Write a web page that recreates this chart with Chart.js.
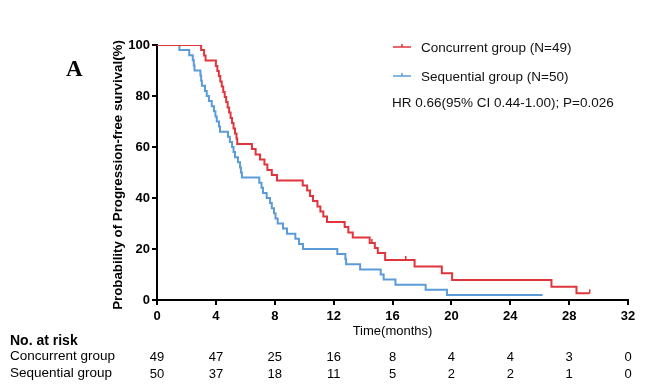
<!DOCTYPE html>
<html>
<head>
<meta charset="utf-8">
<script src="https://cdn.jsdelivr.net/npm/chart.js@4.4.1/dist/chart.umd.min.js"></script>
<style>
  html,body{margin:0;padding:0;background:#fff;}
  #wrap{width:648px;height:389px;position:relative;}
</style>
</head>
<body>
<div id="wrap"><canvas id="c" width="648" height="389"></canvas></div>
<script>
// ---- data ----
const concurrentTime = [0,3.0,3.2,3.3,4.0,4.1,4.2,4.3,4.4,4.5,4.6,4.7,4.8,4.9,5.0,5.1,5.2,5.3,5.4,5.45,6.45,6.7,7.0,7.3,7.5,7.8,8.15,9.9,10.2,10.4,10.6,10.9,11.1,11.3,11.55,12.75,13.0,13.3,14.45,14.8,15.0,15.5,17.5,19.35,20.05,26.8,28.5,29.4];
const concurrentSurv = [100,98.0,95.9,93.9,91.8,89.8,87.8,85.7,83.7,81.6,79.6,77.6,75.5,73.5,71.4,69.4,67.3,65.3,63.3,61.2,59.2,57.1,55.1,53.1,51.0,49.0,46.9,44.9,42.9,40.8,38.8,36.7,34.7,32.7,30.6,28.6,26.5,24.5,22.4,20.4,18.4,15.7,13.1,10.5,7.8,5.2,2.6,2.6];
const concurrentCensorTime = [14.6,16.9,29.4];
const concurrentCensorSurv = [22.4,15.7,2.6];

const sequentialTime = [0,1.52,2.19,2.43,2.5,2.55,2.95,3.0,3.05,3.26,3.38,3.53,3.72,3.87,3.97,4.06,4.21,4.28,4.82,4.95,5.1,5.2,5.3,5.5,5.64,5.7,5.77,6.95,7.1,7.2,7.45,7.68,7.8,7.95,8.05,8.2,8.56,8.83,9.4,9.65,9.92,12.25,12.8,12.85,13.8,15.2,15.4,16.2,18.25,19.7,26.2];
const sequentialSurv = [100,98,96,94,92,90,88,86,84,82,80,78,76,74,72,70,68,66,64,62,60,58,56,54,52,50,48,46,44,42,40,38,36,34,32,30,28,26,24,22,20,18,16,14,12,10,8,6,4,2,2];

const riskTimes = [0,4,8,12,16,20,24,28,32];
const concurrentRisk = [49,47,25,16,8,4,4,3,0];
const sequentialRisk = [50,37,18,11,5,2,2,1,0];

const seriesNames = ["Concurrent group (N=49)","Sequential group (N=50)"];
const riskRowNames = ["Concurrent group","Sequential group"];
const hrText = "HR 0.66(95% CI 0.44-1.00); P=0.026";

const RED = "#e0353d";
const BLUE = "#5b9bd8";
const FONT = "'Liberation Sans', Arial, sans-serif";

function pts(xs, ys){ return xs.map((x,i)=>({x:x, y:ys[i]})); }

const overlay = {
  id: 'overlay',
  afterDraw(chart){
    const ctx = chart.ctx;
    const xs = chart.scales.x;
    const ca = chart.chartArea;
    ctx.save();
    ctx.fillStyle = '#000';
    // Panel letter
    ctx.font = "bold 23px 'Liberation Serif', 'Times New Roman', serif";
    ctx.textAlign = 'left'; ctx.textBaseline = 'alphabetic';
    ctx.fillText('A', 66, 76);
    // Y title
    ctx.save();
    ctx.translate(118, 175);
    ctx.rotate(-Math.PI/2);
    ctx.font = "bold 13.3px " + FONT;
    ctx.textAlign = 'center'; ctx.textBaseline = 'middle';
    ctx.fillText('Probability of Progression-free survival(%)', 0, 0);
    ctx.restore();
    // X title
    ctx.font = "13px " + FONT;
    ctx.textAlign = 'center'; ctx.textBaseline = 'middle';
    ctx.fillText('Time(months)', (ca.left + ca.right)/2, 331);
    // Legend
    const items = [[RED, seriesNames[0], 47],[BLUE, seriesNames[1], 76]];
    items.forEach(([col, txt, y])=>{
      ctx.strokeStyle = col; ctx.lineWidth = 1.5;
      ctx.beginPath(); ctx.moveTo(393, y); ctx.lineTo(411, y); ctx.stroke();
      ctx.beginPath(); ctx.moveTo(402, y-3); ctx.lineTo(402, y); ctx.stroke();
      ctx.fillStyle = '#111';
      ctx.font = "13.5px " + FONT;
      ctx.textAlign = 'left'; ctx.textBaseline = 'middle';
      ctx.fillText(txt, 421, y+1);
    });
    ctx.fillText(hrText, 392, 103);
    // Risk table
    ctx.fillStyle = '#000';
    ctx.font = "bold 14px " + FONT;
    ctx.textAlign = 'left'; ctx.textBaseline = 'middle';
    ctx.fillText('No. at risk', 10, 341);
    ctx.font = "13.5px " + FONT;
    ctx.fillText(riskRowNames[0], 10, 356);
    ctx.fillText(riskRowNames[1], 10, 373);
    ctx.textAlign = 'center';
    ctx.font = "13px " + FONT;
    riskTimes.forEach((t,i)=>{
      const px = xs.getPixelForValue(t);
      ctx.fillText(String(concurrentRisk[i]), px, 357);
      ctx.fillText(String(sequentialRisk[i]), px, 374);
    });
    ctx.restore();
  }
};

new Chart(document.getElementById('c'), {
  type: 'scatter',
  data: {
    datasets: [
      { label: seriesNames[0], data: pts(concurrentTime, concurrentSurv), showLine: true, stepped: true,
        borderColor: RED, borderWidth: 2, pointRadius: 0, fill: false, order: 1 },
      { label: seriesNames[1], data: pts(sequentialTime, sequentialSurv), showLine: true, stepped: true,
        borderColor: BLUE, borderWidth: 2, pointRadius: 0, fill: false, order: 2 },
      { label: 'censor', data: pts(concurrentCensorTime, concurrentCensorSurv), showLine: false,
        pointStyle: 'dash', rotation: 270, pointRadius: 4, borderColor: RED, borderWidth: 1.5, order: 0 }
    ]
  },
  options: {
    responsive: false,
    animation: false,
    devicePixelRatio: 1,
    layout: { padding: { left: 0, right: 20, top: 45, bottom: 69 } },
    plugins: { legend: { display: false }, tooltip: { enabled: false } },
    scales: {
      x: {
        type: 'linear', min: 0, max: 32,
        afterFit: s => { s.height = 20; },
        ticks: { stepSize: 4, color: '#000', font: { family: FONT, size: 13, weight: 'bold' }, padding: 4, maxRotation: 0 },
        grid: { display: true, drawOnChartArea: false, drawTicks: true, tickLength: 5, color: '#000', lineWidth: 2 },
        border: { display: true, color: '#000', width: 2 }
      },
      y: {
        min: 0, max: 100,
        afterFit: s => { s.width = 157; },
        ticks: { stepSize: 20, color: '#000', font: { family: FONT, size: 13, weight: 'bold' }, padding: 2 },
        grid: { display: true, drawOnChartArea: false, drawTicks: true, tickLength: 5, color: '#000', lineWidth: 2 },
        border: { display: true, color: '#000', width: 2 }
      }
    }
  },
  plugins: [overlay]
});
</script>
</body>
</html>
